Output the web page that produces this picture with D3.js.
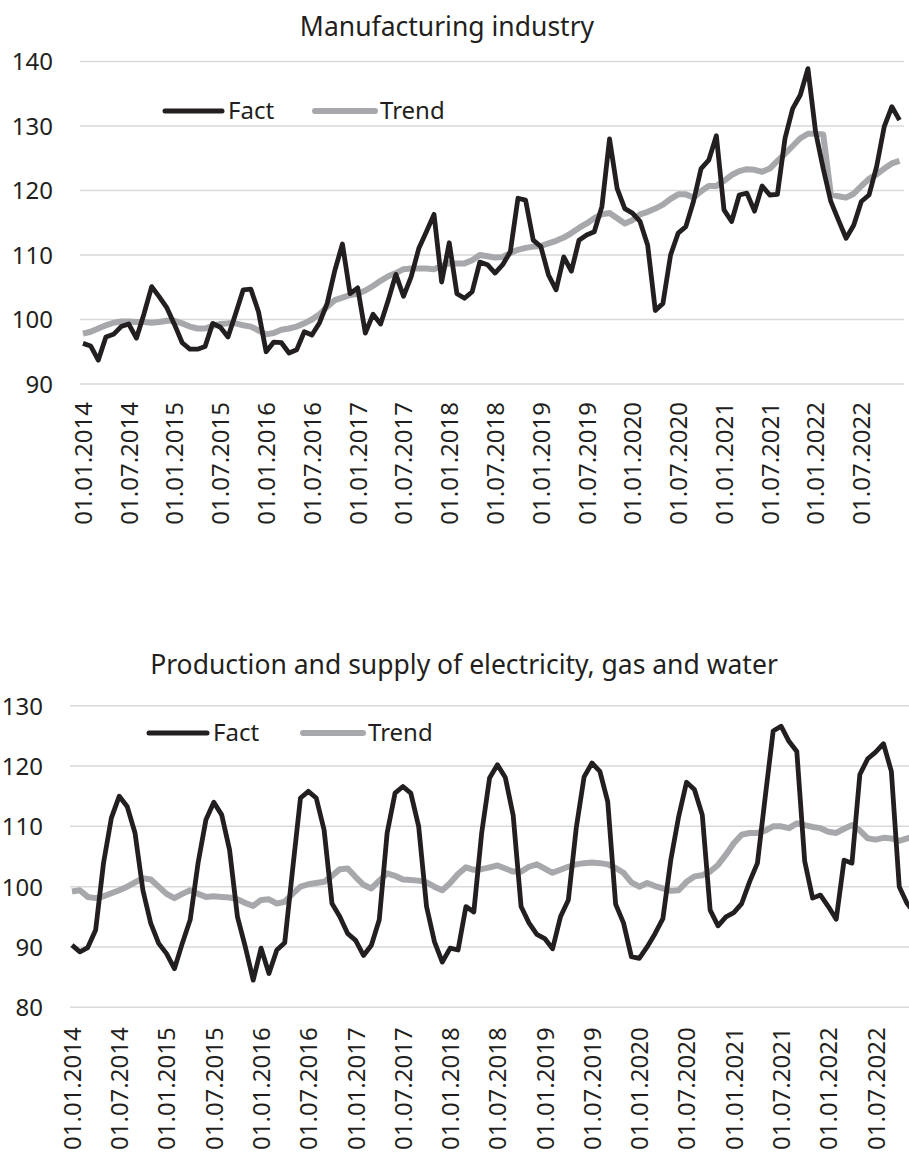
<!DOCTYPE html>
<html>
<head>
<meta charset="utf-8">
<script src="https://cdn.jsdelivr.net/npm/d3@7"></script>
<style>
  body { margin: 0; background: #fff; }
  text { font-family: "Noto Sans", sans-serif; fill: #231f20; }
</style>
</head>
<body>
<section></section>
<script>
// monthly index values, 01.01.2014 .. 01.12.2022
var tickLabels = ["01.01.2014", "01.07.2014", "01.01.2015", "01.07.2015", "01.01.2016", "01.07.2016",
  "01.01.2017", "01.07.2017", "01.01.2018", "01.07.2018", "01.01.2019", "01.07.2019",
  "01.01.2020", "01.07.2020", "01.01.2021", "01.07.2021", "01.01.2022", "01.07.2022"];

var manufFact = [96.3, 95.9, 93.7, 97.3, 97.7, 98.9, 99.3, 97.1, 100.9, 105.1, 103.5, 101.8,
  99.2, 96.4, 95.4, 95.4, 95.8, 99.4, 98.8, 97.3, 100.9, 104.6, 104.7, 101.2,
  95.0, 96.5, 96.4, 94.8, 95.3, 98.1, 97.6, 99.5, 102.5, 107.6, 111.7, 104.0,
  104.9, 97.9, 100.8, 99.3, 103.0, 107.0, 103.6, 106.6, 111.0, 113.6, 116.3, 105.8,
  111.9, 104.0, 103.3, 104.3, 108.9, 108.5, 107.2, 108.5, 110.5, 118.8, 118.5, 112.3,
  111.3, 106.9, 104.6, 109.7, 107.5, 112.3, 113.1, 113.6, 117.5, 128.0, 120.3, 117.2,
  116.5, 115.2, 111.5, 101.4, 102.5, 110.0, 113.4, 114.4, 118.3, 123.4, 124.7, 128.5,
  117.0, 115.2, 119.3, 119.6, 116.8, 120.7, 119.3, 119.4, 128.1, 132.7, 134.8, 138.9,
  129.1, 123.4, 118.3, 115.4, 112.6, 114.6, 118.3, 119.3, 123.7, 129.9, 133.0, 130.9];

var manufTrend = [97.8, 98.1, 98.6, 99.1, 99.5, 99.7, 99.7, 99.6, 99.6, 99.5, 99.6, 99.8,
  99.8, 99.4, 98.9, 98.6, 98.6, 99.0, 99.3, 99.4, 99.4, 99.1, 98.9, 98.3,
  97.7, 97.9, 98.4, 98.6, 98.9, 99.4, 100.0, 100.8, 102.0, 103.0, 103.4, 103.8,
  104.0, 104.5, 105.2, 106.0, 106.7, 107.2, 107.8, 107.9, 107.9, 107.9, 107.8, 108.3,
  108.7, 108.7, 108.7, 109.2, 110.0, 109.8, 109.6, 109.7, 110.3, 110.8, 111.1, 111.3,
  111.4, 111.8, 112.2, 112.7, 113.4, 114.2, 114.9, 115.7, 116.3, 116.5, 115.7, 114.9,
  115.4, 116.3, 116.7, 117.2, 117.8, 118.7, 119.4, 119.4, 118.9, 119.9, 120.7, 120.7,
  121.5, 122.4, 123.0, 123.3, 123.2, 122.9, 123.4, 124.6, 125.7, 126.9, 128.1, 128.8,
  128.8, 128.7, 119.4, 119.1, 118.9, 119.5, 120.7, 121.8, 122.5, 123.4, 124.2, 124.6];

var energyFact = [90.3, 89.2, 89.9, 92.8, 103.9, 111.4, 115.0, 113.3, 108.9, 99.4, 93.9, 90.6,
  88.9, 86.4, 90.6, 94.5, 103.9, 111.1, 114.0, 111.9, 106.1, 95.0, 90.0, 84.5,
  89.8, 85.6, 89.5, 90.7, 102.8, 114.7, 115.8, 114.7, 109.4, 97.2, 95.0, 92.2,
  91.1, 88.6, 90.3, 94.5, 108.9, 115.5, 116.6, 115.5, 110.0, 96.7, 90.9, 87.5,
  89.8, 89.5, 96.7, 95.8, 108.9, 118.0, 120.2, 118.1, 111.8, 96.7, 94.0, 92.1,
  91.4, 89.7, 95.0, 97.8, 109.7, 118.2, 120.5, 119.1, 114.1, 97.1, 94.0, 88.4,
  88.1, 90.0, 92.2, 94.7, 104.4, 111.6, 117.3, 116.1, 111.9, 96.1, 93.5, 95.0,
  95.7, 97.2, 100.8, 103.9, 115.0, 125.8, 126.6, 124.1, 122.4, 104.2, 98.1, 98.6,
  96.7, 94.6, 104.4, 103.9, 118.6, 121.2, 122.3, 123.7, 119.1, 100.0, 97.2, 95.6];

var energyTrend = [99.2, 99.4, 98.3, 98.1, 98.4, 98.9, 99.4, 100.0, 100.7, 101.4, 101.2, 100.0,
  98.8, 98.1, 98.8, 99.4, 98.8, 98.3, 98.4, 98.3, 98.2, 97.9, 97.3, 96.8,
  97.8, 97.9, 97.2, 97.5, 98.8, 100.0, 100.4, 100.6, 100.8, 101.8, 102.9, 103.0,
  101.6, 100.3, 99.7, 101.0, 102.2, 101.8, 101.2, 101.1, 101.0, 100.7, 100.0, 99.4,
  100.6, 102.1, 103.2, 102.8, 102.9, 103.2, 103.5, 103.0, 102.5, 102.5, 103.3, 103.7,
  103.0, 102.3, 102.8, 103.3, 103.7, 103.9, 104.0, 103.9, 103.7, 103.1, 102.3, 100.7,
  100.0, 100.6, 100.1, 99.7, 99.3, 99.4, 100.8, 101.7, 101.9, 102.5, 103.6, 105.3,
  107.2, 108.6, 108.9, 108.9, 109.3, 110.0, 110.0, 109.7, 110.5, 110.2, 109.9, 109.7,
  109.1, 108.9, 109.6, 110.2, 109.3, 108.0, 107.8, 108.1, 108.0, 107.6, 108.0, 108.4];

var manufTicks = [90, 100, 110, 120, 130, 140];
var energyTicks = [80, 90, 100, 110, 120, 130];

// month categories
var fmt = d3.timeFormat("%d.%m.%Y");
var months = d3.timeMonths(new Date(2014, 0, 1), new Date(2023, 0, 1)).map(fmt);

var svg = d3.select("section").append("svg")
  .attr("width", 909)
  .attr("height", 1152);

function drawPanel(p) {
  var g = svg.append("g");

  var x = d3.scalePoint()
    .domain(months)
    .range([p.x0, p.x1]);

  var y = d3.scaleLinear()
    .domain(d3.extent(p.ticks))
    .range([p.bottom, p.top]);

  // gridlines
  g.selectAll(".grid")
    .data(p.ticks)
    .enter().append("line")
    .attr("x1", p.left)
    .attr("x2", p.right)
    .attr("y1", function(d) { return y(d); })
    .attr("y2", function(d) { return y(d); })
    .attr("stroke", "#d9d9d9")
    .attr("stroke-width", 1.5);

  // y labels
  var ya = g.append("g")
    .attr("transform", "translate(" + (p.left - 27) + ",0)")
    .call(d3.axisLeft(y).tickValues(p.ticks).tickSize(0).tickPadding(0));
  ya.select(".domain").remove();
  ya.selectAll("text")
    .attr("dy", "0.35em")
    .style("font-size", "24px")
    .style("font-family", "'Noto Sans', sans-serif")
    .attr("fill", "#231f20");

  // x labels
  var xa = g.append("g")
    .attr("transform", "translate(0," + p.bottom + ")")
    .call(d3.axisBottom(x).tickValues(tickLabels).tickSize(0));
  xa.select(".domain").remove();
  xa.selectAll("text")
    .attr("transform", "rotate(-90)")
    .attr("x", -p.labelPad)
    .attr("y", 0)
    .attr("dy", "0.35em")
    .style("text-anchor", "end")
    .style("font-size", "24px")
    .style("font-family", "'Noto Sans', sans-serif")
    .attr("fill", "#231f20");

  var line = d3.line()
    .x(function(d, i) { return x(months[i]); })
    .y(function(d) { return y(d); });

  g.append("path")
    .datum(p.trend)
    .attr("fill", "none")
    .attr("stroke", "#a7a8ab")
    .attr("stroke-width", 6)
    .attr("stroke-linejoin", "round")
    .attr("d", line);

  g.append("path")
    .datum(p.fact)
    .attr("fill", "none")
    .attr("stroke", "#231f20")
    .attr("stroke-width", 4.8)
    .attr("stroke-linejoin", "round")
    .attr("d", line);

  // title
  g.append("text")
    .attr("x", p.titleX)
    .attr("y", p.titleY)
    .attr("text-anchor", "middle")
    .style("font-size", "26.5px")
    .text(p.title);

  // legend
  var lg = g.append("g");
  lg.append("line")
    .attr("x1", p.leg[0]).attr("x2", p.leg[1])
    .attr("y1", p.legY).attr("y2", p.legY)
    .attr("stroke", "#231f20").attr("stroke-width", 5)
    .attr("stroke-linecap", "round");
  lg.append("text")
    .attr("x", p.leg[2]).attr("y", p.legY)
    .attr("dy", "0.35em")
    .style("font-size", "24px")
    .text("Fact");
  lg.append("line")
    .attr("x1", p.leg[3]).attr("x2", p.leg[4])
    .attr("y1", p.legY).attr("y2", p.legY)
    .attr("stroke", "#a7a8ab").attr("stroke-width", 6)
    .attr("stroke-linecap", "round");
  lg.append("text")
    .attr("x", p.leg[5]).attr("y", p.legY)
    .attr("dy", "0.35em")
    .style("font-size", "24px")
    .text("Trend");
}

drawPanel({
  title: "Manufacturing industry", titleX: 447, titleY: 36,
  fact: manufFact, trend: manufTrend, ticks: manufTicks,
  left: 80, right: 904, x0: 83, x1: 899.5,
  top: 61.5, bottom: 384, labelPad: 18,
  legY: 111, leg: [165, 222, 228, 315, 375, 380]
});

drawPanel({
  title: "Production and supply of electricity, gas and water", titleX: 464, titleY: 674,
  fact: energyFact, trend: energyTrend, ticks: energyTicks,
  left: 70, right: 916, x0: 72, x1: 915,
  top: 705.7, bottom: 1007.3, labelPad: 20,
  legY: 733, leg: [149, 207, 213, 303, 363, 368]
});
</script>
</body>
</html>
